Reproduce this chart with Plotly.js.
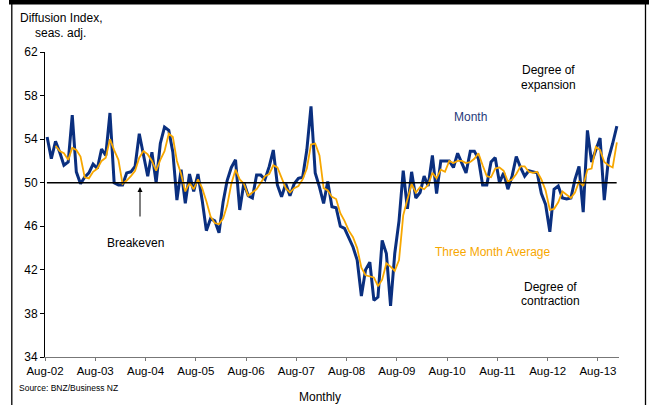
<!DOCTYPE html>
<html>
<head>
<meta charset="utf-8">
<script src="https://cdn.plot.ly/plotly-3.0.1.min.js"></script>
<style>
  html, body { margin: 0; padding: 0; background: #fff; }
  #chart { width: 649px; height: 405px; }
</style>
</head>
<body>
<div id="chart"></div>
<script>
// ---- data ----
const startMonth = "2002-08";
const monthly = [
  54.2, 52.2, 53.8, 52.8, 51.6, 51.9, 56.2, 51.0, 49.9, 50.5, 50.9, 51.7,
  51.3, 53.1, 52.5, 56.4, 50.0, 49.8, 49.8, 50.9, 51.0, 51.5, 54.5, 52.6,
  50.6, 52.8, 50.0, 53.6, 55.1, 54.8, 52.8, 48.4, 51.2, 48.1, 50.8, 49.2,
  50.8, 48.4, 45.6, 46.7, 46.5, 45.4, 48.2, 50.2, 51.4, 52.1, 47.5, 50.0,
  48.8, 48.6, 50.7, 50.7, 50.3, 51.5, 53.0, 49.8, 48.7, 49.9, 48.8, 49.9,
  50.4, 50.5, 53.0, 57.0, 50.9, 49.6, 48.1, 50.1, 47.8, 47.7, 46.0, 45.8,
  45.0, 44.1, 42.9, 39.6, 42.0, 42.7, 39.2, 39.5, 44.7, 43.5, 38.7, 43.5,
  46.5, 51.1, 47.6, 51.0, 48.6, 49.1, 50.6, 49.7, 52.5, 49.0, 52.0, 52.0,
  52.0, 51.4, 52.7, 51.8, 50.9, 52.9, 52.9, 52.2, 49.8, 49.8, 51.9, 52.3,
  50.0, 50.9, 49.4, 50.6, 52.4, 51.4, 50.6, 51.1, 51.0, 50.9, 49.0, 48.0,
  45.5, 49.4, 49.7, 48.6, 48.5, 48.6, 50.3, 51.5, 47.3, 54.8, 51.9, 53.1,
  54.1, 48.4, 52.2, 53.6, 55.2
];
const threeMonthAvg = [
  null, null, 53.4, 52.9, 52.7, 52.1, 53.2, 53.0, 52.4, 50.5, 50.4, 51.0,
  51.3, 52.0, 52.3, 54.0, 53.0, 52.1, 49.9, 50.2, 50.6, 51.1, 52.3, 52.9,
  52.6, 52.0, 51.1, 52.1, 52.9, 54.5, 54.2, 52.0, 50.8, 49.2, 50.0, 49.4,
  50.3, 49.5, 48.3, 46.9, 46.3, 46.2, 46.7, 47.9, 49.9, 51.2, 50.3, 49.9,
  48.8, 49.1, 49.4, 50.0, 50.6, 50.8, 51.6, 51.4, 50.5, 49.5, 49.1, 49.5,
  49.7, 50.3, 51.3, 53.5, 53.6, 52.5, 49.5, 49.3, 48.7, 48.5, 47.2, 46.5,
  45.6, 45.0, 44.0, 42.2, 41.5, 41.4, 41.3, 40.5, 41.1, 42.6, 42.3, 41.9,
  42.9, 47.0, 48.4, 49.9, 49.1, 49.6, 49.4, 49.8, 50.9, 50.4, 51.2, 51.0,
  52.0, 51.8, 52.0, 52.0, 51.8, 51.9, 52.2, 52.7, 51.6, 50.6, 50.5, 51.3,
  51.4, 51.1, 50.1, 50.3, 50.8, 51.5, 51.5, 51.0, 50.9, 51.0, 50.3, 49.3,
  47.5, 47.6, 48.2, 49.2, 48.9, 48.6, 49.1, 50.1, 49.7, 51.2, 51.3, 53.3,
  53.0, 51.9, 51.6, 51.4, 53.7
];
const breakeven = 50;
const yTickVals = [34, 38, 42, 46, 50, 54, 58, 62];

// month categories (one per value), starting Aug-02
const months = [];
(function () {
  let y = parseInt(startMonth.slice(0, 4)), m = parseInt(startMonth.slice(5));
  for (let i = 0; i < monthly.length; i++) {
    months.push(y + "-" + String(m).padStart(2, "0"));
    m++; if (m > 12) { m = 1; y++; }
  }
})();
const tickVals = months.filter(s => s.endsWith("-08")).map(s => s + "-01");

// ---- layout helpers (pixel -> paper) ----
const W = 649, H = 405, ML = 45, MR = 30, MT = 52, MB = 48;
const PW = W - ML - MR, PH = H - MT - MB;
const px = x => (x - ML) / PW;
const py = y => (H - MB - y) / PH;
const FONT = "Arial, 'Liberation Sans', sans-serif";

const traces = [
  {
    x: months, y: monthly, type: "scatter", mode: "lines", name: "Month",
    xperiod: "M1", xperiodalignment: "middle",
    line: { color: "#0A2F7F", width: 3 }
  },
  {
    x: months, y: threeMonthAvg, type: "scatter", mode: "lines", name: "Three Month Average",
    xperiod: "M1", xperiodalignment: "middle",
    line: { color: "#F7A700", width: 1.8 }
  }
];

function ann(text, x, y, opts) {
  return Object.assign({
    text: text, xref: "paper", yref: "paper", x: px(x), y: py(y),
    xanchor: "center", yanchor: "middle", showarrow: false, align: "center",
    font: { family: FONT, size: 12, color: "#000" }
  }, opts || {});
}

const layout = {
  width: W, height: H,
  margin: { l: ML, r: MR, t: MT, b: MB, pad: 0 },
  paper_bgcolor: "#fff", plot_bgcolor: "#fff",
  showlegend: false,
  font: { family: FONT, size: 12, color: "#000" },
  xaxis: {
    type: "date",
    range: [months[0] + "-01", "2014-01-01"],
    tickmode: "array", tickvals: tickVals, tickformat: "%b-%y",
    ticks: "outside", ticklen: 3, tickcolor: "#777", tickwidth: 1,
    showline: true, linecolor: "#777", linewidth: 1,
    showgrid: false, zeroline: false,
    tickfont: { family: FONT, size: 11.5, color: "#000" }
  },
  yaxis: {
    range: [34, 62], tickmode: "array", tickvals: yTickVals,
    ticks: "outside", ticklen: 4, tickcolor: "#000", tickwidth: 1,
    showline: true, linecolor: "#000", linewidth: 1,
    showgrid: false, zeroline: false,
    tickfont: { family: FONT, size: 12, color: "#000" }
  },
  shapes: [
    { type: "line", xref: "x", yref: "y",
      x0: months[0] + "-15", x1: months[months.length - 1] + "-15",
      y0: breakeven, y1: breakeven, line: { color: "#000", width: 1.5 }, layer: "above" },
    { type: "rect", xref: "paper", yref: "paper",
      x0: px(9), x1: px(649), y0: py(0), y1: py(4.5),
      fillcolor: "#000", line: { width: 0 } },
    { type: "line", xref: "paper", yref: "paper",
      x0: px(11.8), x1: px(11.8), y0: py(2), y1: py(405), line: { color: "#000", width: 1.3 } },
    { type: "line", xref: "paper", yref: "paper",
      x0: px(645.5), x1: px(645.5), y0: py(2), y1: py(405), line: { color: "#000", width: 1.3 } }
  ],
  annotations: [
    ann("Diffusion Index,", 61, 18),
    ann("seas. adj.", 60, 33),
    ann("Degree of", 548, 70),
    ann("expansion", 548, 85),
    ann("Month", 470, 117, { font: { family: FONT, size: 12, color: "#1F3A7A" } }),
    ann("Breakeven", 135, 243),
    ann("Three Month Average", 433, 252, { xanchor: "left", font: { family: FONT, size: 12, color: "#F7A700" } }),
    ann("Degree of", 550, 287),
    ann("contraction", 550, 301),
    ann("Source: BNZ/Business NZ", 17, 388, { xanchor: "left", font: { family: FONT, size: 8.5, color: "#000" } }),
    ann("Monthly", 320, 397),
    { text: "", xref: "paper", yref: "paper", x: px(140), y: py(187),
      showarrow: true, ax: 0, ay: 31, arrowhead: 2, arrowsize: 1, arrowwidth: 1, arrowcolor: "#000" }
  ]
};

Plotly.newPlot("chart", traces, layout, { displayModeBar: false, staticPlot: true });
</script>
</body>
</html>
